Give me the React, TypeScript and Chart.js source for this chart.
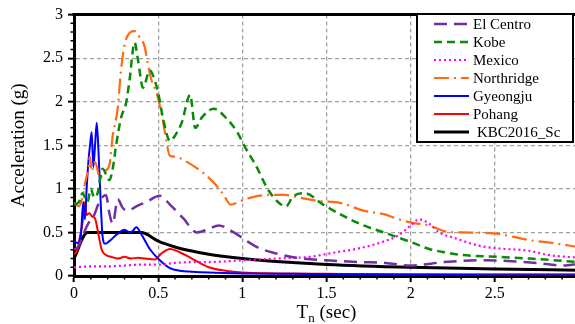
import React, { useEffect, useRef } from "react";
import { Chart, registerables } from "chart.js";

Chart.register(...registerables);

// ---------- data ----------
const elCentroT = [0, 0.03, 0.06, 0.09, 0.12, 0.15, 0.19, 0.21, 0.23, 0.26, 0.29, 0.32, 0.37, 0.43, 0.51, 0.57, 0.65, 0.73, 0.8, 0.86, 0.95, 1.02, 1.1, 1.2, 1.32, 1.5, 1.7, 1.85, 2.0, 2.2, 2.4, 2.6, 2.75, 2.9, 3.0];
const elCentroA = [0.3, 0.35, 0.5, 0.62, 0.7, 0.85, 0.93, 0.72, 0.6, 0.88, 0.78, 0.75, 0.8, 0.85, 0.92, 0.82, 0.66, 0.5, 0.54, 0.58, 0.5, 0.41, 0.32, 0.26, 0.21, 0.18, 0.16, 0.15, 0.12, 0.16, 0.18, 0.17, 0.15, 0.12, 0.14];

const kobeT = [0, 0.03, 0.05, 0.08, 0.1, 0.12, 0.14, 0.17, 0.21, 0.23, 0.25, 0.28, 0.31, 0.33, 0.36, 0.38, 0.41, 0.45, 0.47, 0.5, 0.53, 0.57, 0.6, 0.64, 0.69, 0.72, 0.76, 0.83, 0.91, 0.97, 1.01, 1.08, 1.16, 1.26, 1.3, 1.37, 1.48, 1.58, 1.72, 1.84, 2.0, 2.11, 2.21, 2.31, 2.51, 2.71, 3.0];
const kobeA = [0.82, 0.85, 0.95, 0.85, 1.0, 0.9, 0.95, 1.23, 1.1, 1.23, 1.5, 1.82, 1.99, 2.25, 2.68, 2.48, 2.16, 2.36, 2.3, 2.1, 1.8, 1.55, 1.61, 1.76, 2.08, 1.7, 1.82, 1.92, 1.8, 1.65, 1.5, 1.27, 0.97, 0.8, 0.91, 0.95, 0.82, 0.71, 0.58, 0.5, 0.39, 0.31, 0.27, 0.24, 0.22, 0.2, 0.16];

const mexicoT = [0, 0.1, 0.2, 0.3, 0.4, 0.5, 0.6, 0.7, 0.8, 1.0, 1.2, 1.4, 1.55, 1.7, 1.83, 1.93, 2.0, 2.05, 2.11, 2.17, 2.27, 2.4, 2.5, 2.7, 2.82, 3.0];
const mexicoA = [0.1, 0.11, 0.11, 0.12, 0.13, 0.13, 0.15, 0.16, 0.16, 0.18, 0.2, 0.22, 0.27, 0.32, 0.39, 0.47, 0.58, 0.65, 0.6, 0.5, 0.43, 0.35, 0.32, 0.29, 0.24, 0.21];

const northridgeT = [0, 0.03, 0.05, 0.065, 0.085, 0.095, 0.105, 0.125, 0.155, 0.18, 0.21, 0.23, 0.26, 0.28, 0.31, 0.36, 0.39, 0.42, 0.44, 0.46, 0.49, 0.52, 0.54, 0.57, 0.6, 0.67, 0.72, 0.77, 0.85, 0.89, 0.93, 0.99, 1.05, 1.15, 1.25, 1.34, 1.46, 1.58, 1.72, 1.84, 1.93, 2.01, 2.11, 2.21, 2.31, 2.49, 2.71, 2.84, 3.0];
const northridgeA = [0.84, 0.8, 0.9, 1.06, 1.23, 1.37, 1.2, 1.31, 1.12, 1.2, 1.27, 1.61, 1.93, 2.38, 2.72, 2.81, 2.74, 2.63, 2.42, 2.25, 2.1, 1.87, 1.65, 1.38, 1.37, 1.31, 1.25, 1.18, 1.03, 0.93, 0.82, 0.86, 0.9, 0.93, 0.93, 0.9, 0.86, 0.84, 0.75, 0.71, 0.65, 0.61, 0.58, 0.51, 0.5, 0.49, 0.41, 0.38, 0.33];

const gyeongjuT = [0, 0.02, 0.04, 0.055, 0.065, 0.075, 0.085, 0.095, 0.105, 0.115, 0.125, 0.135, 0.145, 0.155, 0.17, 0.185, 0.21, 0.25, 0.3, 0.33, 0.35, 0.37, 0.4, 0.45, 0.51, 0.57, 0.63, 0.7, 0.8, 1.0, 1.3, 1.6, 2.0, 2.5, 3.0];
const gyeongjuA = [0.4, 0.38, 0.45, 0.85, 0.65, 1.0, 1.3, 1.5, 1.65, 1.25, 1.5, 1.76, 1.45, 1.0, 0.45, 0.37, 0.4, 0.47, 0.53, 0.5, 0.52, 0.56, 0.48, 0.31, 0.18, 0.09, 0.06, 0.05, 0.04, 0.03, 0.025, 0.02, 0.015, 0.01, 0.01];

const pohangT = [0, 0.02, 0.035, 0.05, 0.065, 0.075, 0.09, 0.11, 0.125, 0.145, 0.165, 0.19, 0.22, 0.26, 0.3, 0.34, 0.38, 0.42, 0.48, 0.52, 0.57, 0.63, 0.7, 0.8, 0.9, 1.0, 1.2, 1.5, 2.0, 2.5, 3.0];
const pohangA = [0.25, 0.3, 0.45, 0.6, 0.85, 0.7, 0.72, 0.68, 0.66, 0.48, 0.3, 0.24, 0.22, 0.2, 0.22, 0.2, 0.21, 0.2, 0.19, 0.26, 0.31, 0.27, 0.2, 0.1, 0.06, 0.04, 0.03, 0.025, 0.02, 0.02, 0.02];

const kbcT = [0, 0.08, 0.4, 0.5, 0.6, 0.7, 0.8, 1.0, 1.2, 1.5, 2.0, 2.5, 3.0];
const kbcA = [0.2, 0.5, 0.5, 0.4, 0.333, 0.286, 0.25, 0.2, 0.167, 0.133, 0.1, 0.08, 0.067];

const xTickLabels = ["0", "0.5", "1", "1.5", "2", "2.5"];
const yTickLabels = ["0", "0.5", "1", "1.5", "2", "2.5", "3"];

const FONT = "'Liberation Serif', 'Times New Roman', serif";

const pts = (t: number[], a: number[]) => t.map((v, i) => ({ x: v, y: a[i] }));

export default function App() {
  const ref = useRef<HTMLCanvasElement | null>(null);

  useEffect(() => {
    if (!ref.current) return;

    const decor = {
      id: "decor",
      afterDraw(chart: any) {
        const { ctx, chartArea, scales } = chart;
        const xs = scales.x;
        const ys = scales.y;
        ctx.save();
        // top frame line
        ctx.strokeStyle = "#000";
        ctx.lineWidth = 3;
        ctx.setLineDash([]);
        ctx.beginPath();
        ctx.moveTo(chartArea.left - 1.5, chartArea.top);
        ctx.lineTo(chartArea.right, chartArea.top);
        ctx.stroke();
        // minor ticks
        ctx.lineWidth = 1.5;
        ctx.beginPath();
        for (let i = 1; i < 30; i++) {
          if (i % 5 === 0) continue;
          const v = i / 10;
          const px = xs.getPixelForValue(v);
          ctx.moveTo(px, chartArea.bottom);
          ctx.lineTo(px, chartArea.bottom + 3.5);
          const py = ys.getPixelForValue(v);
          ctx.moveTo(chartArea.left, py);
          ctx.lineTo(chartArea.left - 3.5, py);
        }
        ctx.stroke();

        // x title with subscript
        ctx.fillStyle = "#000";
        ctx.textBaseline = "alphabetic";
        const big = `19px ${FONT}`;
        const small = `13px ${FONT}`;
        ctx.font = big;
        const wT = ctx.measureText("T").width;
        const wRest = ctx.measureText(" (sec)").width;
        ctx.font = small;
        const wN = ctx.measureText("n").width;
        const total = wT + wN + wRest;
        const cx = (chartArea.left + chartArea.right) / 2;
        let sx = cx - total / 2;
        const base = 318;
        ctx.font = big;
        ctx.textAlign = "left";
        ctx.fillText("T", sx, base);
        sx += wT;
        ctx.font = small;
        ctx.fillText("n", sx, base + 4);
        sx += wN;
        ctx.font = big;
        ctx.fillText(" (sec)", sx, base);

        // legend
        const bx = 417, by = 14, bw = 156, bh = 128;
        ctx.fillStyle = "#fff";
        ctx.fillRect(bx, by, bw, bh);
        ctx.strokeStyle = "#000";
        ctx.lineWidth = 2;
        ctx.strokeRect(bx, by, bw, bh);
        ctx.font = `15px ${FONT}`;
        ctx.textBaseline = "middle";
        chart.data.datasets.forEach((ds: any, i: number) => {
          const yy = 24 + i * 18;
          ctx.save();
          ctx.strokeStyle = ds.borderColor;
          ctx.lineWidth = ds.borderWidth;
          ctx.setLineDash(ds.borderDash || []);
          ctx.beginPath();
          ctx.moveTo(434, yy);
          ctx.lineTo(469, yy);
          ctx.stroke();
          ctx.restore();
          ctx.fillStyle = "#000";
          ctx.fillText(ds.label, ds.label.startsWith("KBC") ? 477 : 473, yy + 1);
        });
        ctx.restore();
      },
    };

    const mk = (label: string, t: number[], a: number[], color: string, width: number, dash: number[]) => ({
      label,
      data: pts(t, a),
      borderColor: color,
      backgroundColor: color,
      borderWidth: width,
      borderDash: dash,
      pointRadius: 0,
      fill: false,
      cubicInterpolationMode: "monotone" as const,
    });

    const chart = new Chart(ref.current, {
      type: "line",
      data: {
        datasets: [
          mk("El Centro", elCentroT, elCentroA, "#7030A0", 2.5, [13, 7]),
          mk("Kobe", kobeT, kobeA, "#0A8A0A", 2.5, [8, 5]),
          mk("Mexico", mexicoT, mexicoA, "#FF00FF", 2.2, [2, 3]),
          mk("Northridge", northridgeT, northridgeA, "#FF6A13", 2.2, [15, 5, 2, 5]),
          mk("Gyeongju", gyeongjuT, gyeongjuA, "#0000FF", 2, []),
          mk("Pohang", pohangT, pohangA, "#FF0000", 2, []),
          mk("KBC2016_Sc", kbcT, kbcA, "#000000", 3, []),
        ],
      },
      options: {
        responsive: false,
        animation: false,
        layout: { padding: { top: 10, right: 0, left: 0, bottom: 0 } },
        plugins: { legend: { display: false }, tooltip: { enabled: false } },
        scales: {
          x: {
            type: "linear",
            min: 0,
            max: 3,
            afterFit: (s: any) => {
              s.height = 48;
            },
            ticks: {
              stepSize: 0.5,
              color: "#000",
              font: { family: FONT, size: 16 },
              padding: 2,
              maxRotation: 0,
              callback: (_v: any, i: number) => xTickLabels[i] ?? "",
            },
            grid: {
              color: "#A0A0A0",
              lineWidth: 1.3,
              drawTicks: true,
              tickLength: 6,
              tickColor: "#000",
              tickWidth: 2,
              tickBorderDash: [],
            },
            border: { display: true, color: "#000", width: 3, dash: [4, 3] },
          },
          y: {
            type: "linear",
            min: 0,
            max: 3,
            afterFit: (s: any) => {
              s.width = 74;
            },
            ticks: {
              stepSize: 0.5,
              color: "#000",
              font: { family: FONT, size: 16 },
              padding: 5,
              callback: (_v: any, i: number) => yTickLabels[i] ?? "",
            },
            grid: {
              color: "#A0A0A0",
              lineWidth: 1.3,
              drawTicks: true,
              tickLength: 6,
              tickColor: "#000",
              tickWidth: 2,
              tickBorderDash: [],
            },
            border: { display: true, color: "#000", width: 3, dash: [4, 3] },
            title: {
              display: true,
              text: "Acceleration (g)",
              color: "#000",
              font: { family: FONT, size: 19 },
              padding: { top: 8, bottom: 0 },
            },
          },
        },
      },
      plugins: [decor],
    });

    return () => chart.destroy();
  }, []);

  return (
    <div style={{ position: "absolute", left: 0, top: 0, width: 575, height: 324, overflow: "hidden", background: "#fff" }}>
      <canvas ref={ref} width={581} height={324} style={{ display: "block" }} />
    </div>
  );
}
